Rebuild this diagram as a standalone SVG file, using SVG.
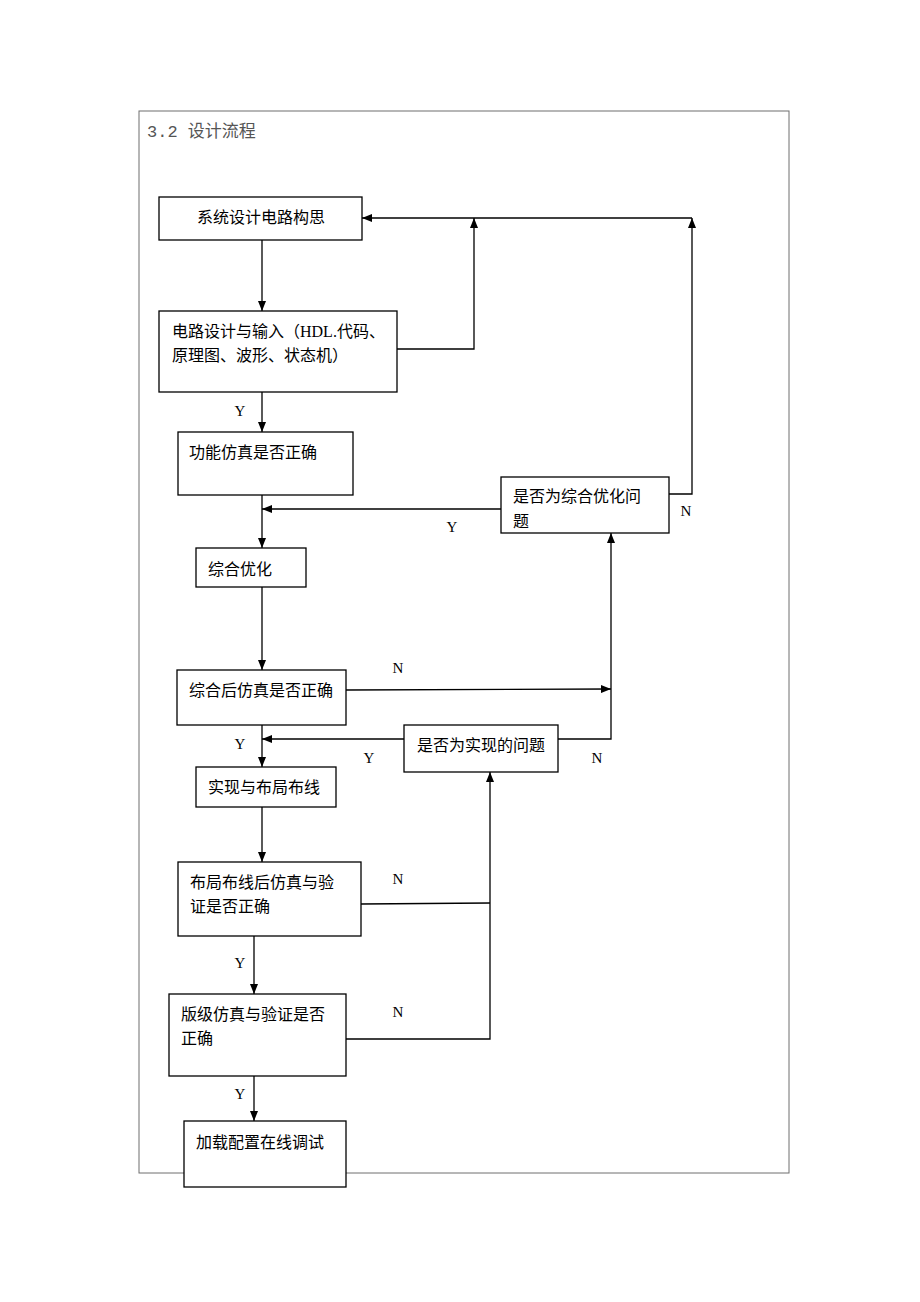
<svg xmlns="http://www.w3.org/2000/svg" width="920" height="1302" viewBox="0 0 920 1302">
<style>
.frame{fill:none;stroke:#6e6e6e;stroke-width:1}
.box{fill:#fff;stroke:#000;stroke-width:1.3}
.ln{fill:none;stroke:#000;stroke-width:1.3}
.t{font-family:"Liberation Serif","Noto Sans CJK SC",serif;font-size:16px;fill:#000}
.lb{font-family:"Liberation Serif",serif;font-size:15px;fill:#000;text-anchor:middle}
.title{font-family:"Liberation Mono","Noto Sans CJK SC",monospace;font-size:17px;fill:#555}
</style>
<defs>
<marker id="ah" markerUnits="userSpaceOnUse" markerWidth="10" markerHeight="8" refX="10" refY="4" orient="auto">
<path d="M0,0 L10,4 L0,8 Z" fill="#000"/>
</marker>
</defs>
<rect width="920" height="1302" fill="#fff"/>
<rect class="frame" x="139" y="111" width="650" height="1062"/>
<text class="title" x="147" y="137">3.2 设计流程</text>

<g id="connectors">
<line class="ln" x1="262" y1="240" x2="262" y2="311" marker-end="url(#ah)"/>
<polyline class="ln" points="397,349 474,349 474,218" marker-end="url(#ah)"/>
<line class="ln" x1="692" y1="218" x2="362" y2="218" marker-end="url(#ah)"/>
<polyline class="ln" points="668,494 692,494 692,218" marker-end="url(#ah)"/>
<line class="ln" x1="262" y1="392" x2="262" y2="432" marker-end="url(#ah)"/>
<line class="ln" x1="262" y1="495" x2="262" y2="548" marker-end="url(#ah)"/>
<line class="ln" x1="501" y1="509" x2="262" y2="509" marker-end="url(#ah)"/>
<line class="ln" x1="262" y1="587" x2="262" y2="670" marker-end="url(#ah)"/>
<line class="ln" x1="346" y1="690" x2="611" y2="689" marker-end="url(#ah)"/>
<polyline class="ln" points="558,739 611,739 611,533" marker-end="url(#ah)"/>
<line class="ln" x1="404" y1="739" x2="262" y2="739" marker-end="url(#ah)"/>
<line class="ln" x1="262" y1="725" x2="262" y2="767" marker-end="url(#ah)"/>
<line class="ln" x1="262" y1="807" x2="262" y2="862" marker-end="url(#ah)"/>
<line class="ln" x1="361" y1="904" x2="490" y2="903"/>
<polyline class="ln" points="346,1039 490,1039 490,772" marker-end="url(#ah)"/>
<line class="ln" x1="254" y1="936" x2="254" y2="994" marker-end="url(#ah)"/>
<line class="ln" x1="254" y1="1076" x2="254" y2="1121" marker-end="url(#ah)"/>
<text class="lb" x="240" y="416">Y</text>
<text class="lb" x="452" y="532">Y</text>
<text class="lb" x="686" y="516">N</text>
<text class="lb" x="398" y="673">N</text>
<text class="lb" x="240" y="749">Y</text>
<text class="lb" x="369" y="763">Y</text>
<text class="lb" x="597" y="763">N</text>
<text class="lb" x="398" y="884">N</text>
<text class="lb" x="240" y="968">Y</text>
<text class="lb" x="398" y="1017">N</text>
<text class="lb" x="240" y="1099">Y</text>
</g>

<g id="n1"><rect class="box" x="159" y="197" width="203" height="43"/><text class="t" x="197" y="223">系统设计电路构思</text></g>
<g id="n2"><rect class="box" x="159" y="311" width="238" height="81"/><text class="t" x="172" y="337">电路设计与输入（HDL.代码、</text><text class="t" x="172" y="361">原理图、波形、状态机）</text></g>
<g id="n3"><rect class="box" x="178" y="432" width="175" height="63"/><text class="t" x="189" y="458">功能仿真是否正确</text></g>
<g id="n4"><rect class="box" x="501" y="477" width="168" height="56"/><text class="t" x="513" y="502">是否为综合优化问</text><text class="t" x="513" y="527">题</text></g>
<g id="n5"><rect class="box" x="196" y="548" width="110" height="39"/><text class="t" x="208" y="575">综合优化</text></g>
<g id="n6"><rect class="box" x="177" y="670" width="169" height="55"/><text class="t" x="189" y="696">综合后仿真是否正确</text></g>
<g id="n7"><rect class="box" x="404" y="725" width="154" height="47"/><text class="t" x="417" y="751">是否为实现的问题</text></g>
<g id="n8"><rect class="box" x="196" y="767" width="140" height="40"/><text class="t" x="208" y="793">实现与布局布线</text></g>
<g id="n9"><rect class="box" x="178" y="862" width="183" height="74"/><text class="t" x="190" y="888">布局布线后仿真与验</text><text class="t" x="190" y="912">证是否正确</text></g>
<g id="n10"><rect class="box" x="169" y="994" width="177" height="82"/><text class="t" x="181" y="1020">版级仿真与验证是否</text><text class="t" x="181" y="1044">正确</text></g>
<g id="n11"><rect class="box" x="184" y="1121" width="162" height="66"/><text class="t" x="196" y="1148">加载配置在线调试</text></g>
</svg>
